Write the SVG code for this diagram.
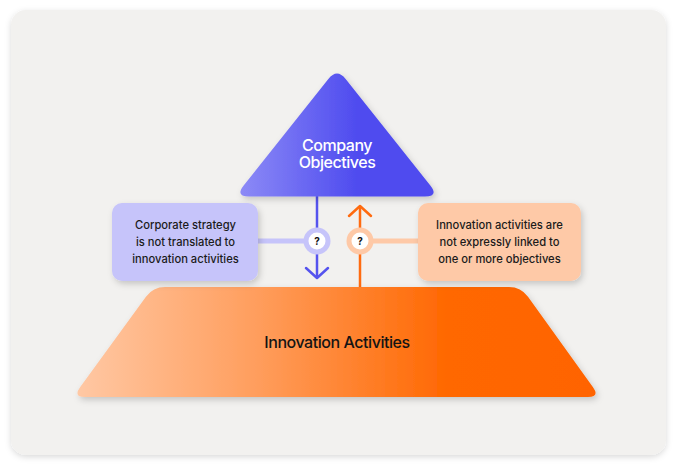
<svg xmlns="http://www.w3.org/2000/svg" width="677" height="466" viewBox="0 0 677 466">
<defs>
<linearGradient id="gTri" x1="0" y1="0" x2="1" y2="0" gradientUnits="objectBoundingBox">
<stop offset="0" stop-color="#8c8af6"/>
<stop offset="0.6" stop-color="#4f4cef"/>
<stop offset="1" stop-color="#4f4cef"/>
</linearGradient>
<linearGradient id="gTrap" x1="0" y1="0" x2="1" y2="0">
<stop offset="0" stop-color="#ffc8a4"/>
<stop offset="0.35" stop-color="#ff9d5c"/>
<stop offset="0.72" stop-color="#ff6700"/>
<stop offset="1" stop-color="#ff6400"/>
</linearGradient>
<filter id="sh" x="-10%" y="-10%" width="120%" height="130%">
<feDropShadow dx="2" dy="3" stdDeviation="3" flood-color="#000" flood-opacity="0.18"/>
</filter>
<filter id="shCard" x="-5%" y="-5%" width="110%" height="110%">
<feDropShadow dx="0" dy="2" stdDeviation="3" flood-color="#000" flood-opacity="0.15"/>
</filter>
<style>
.t{font-family:Inter,"Noto Sans","Liberation Sans",sans-serif;text-anchor:middle}
.box{font-size:11.2px;font-weight:500;fill:#1b1b1b}
.big{font-size:16px;font-weight:500;letter-spacing:-0.45px}
</style>
</defs>
<rect x="0" y="0" width="677" height="466" fill="#ffffff"/>
<rect id="card" x="11" y="10" width="655" height="445" rx="15" fill="#f2f1ef" filter="url(#shCard)"/>

<g id="connectors">
<line x1="258" y1="241" x2="317" y2="241" stroke="#c6c4fa" stroke-width="5"/>
<line x1="360" y1="241" x2="419" y2="241" stroke="#fec9a7" stroke-width="5"/>
<line x1="317" y1="194" x2="317" y2="277" stroke="#5553ee" stroke-width="2.5"/>
<polyline points="306,268 317,278 328,268" fill="none" stroke="#5553ee" stroke-width="2.5" stroke-linecap="round" stroke-linejoin="round"/>
<line x1="360" y1="290" x2="360" y2="207" stroke="#ff6b10" stroke-width="2.5"/>
<polyline points="349,216 360,206 371,216" fill="none" stroke="#ff6b10" stroke-width="2.5" stroke-linecap="round" stroke-linejoin="round"/>
<circle cx="317" cy="241" r="13.5" fill="#c6c4fa"/>
<circle cx="317" cy="241" r="8.5" fill="#ffffff"/>
<text class="t" x="317" y="245" font-size="10" font-weight="700" fill="#111">?</text>
<circle cx="360" cy="241" r="13.5" fill="#fec9a7"/>
<circle cx="360" cy="241" r="8.5" fill="#ffffff"/>
<text class="t" x="360" y="245" font-size="10" font-weight="700" fill="#111">?</text>
</g>

<g id="company-objectives">
<path d="M328.35 79 Q337 68 345.65 79 L430.35 185.5 Q439 196.5 425 196.5 L249 196.5 Q235 196.5 243.65 185.5 Z" fill="url(#gTri)" filter="url(#sh)"/>
<text class="t big" x="337" y="151" fill="#ffffff">Company</text>
<text class="t big" x="337" y="168" fill="#ffffff">Objectives</text>
</g>

<g id="innovation-activities">
<path d="M165 287 L509 287 Q521 287 528 296.75 L593 387.25 Q600 397 588 397 L85 397 Q73 397 80.06 387.3 L145.94 296.7 Q153 287 165 287 Z" fill="url(#gTrap)" filter="url(#sh)"/>
<text class="t big" x="337" y="348" fill="#141414">Innovation Activities</text>
</g>

<g id="corporate-strategy">
<rect x="112" y="203" width="146" height="78" rx="10" fill="#c6c4fa" filter="url(#sh)"/>
<text class="t box" x="185.5" y="228.5">Corporate strategy</text>
<text class="t box" x="185.5" y="245.5">is not translated to</text>
<text class="t box" x="185.5" y="262.5">innovation activities</text>
</g>

<g id="innovation-not-linked">
<rect x="418" y="203" width="163" height="78" rx="10" fill="#fec9a7" filter="url(#sh)"/>
<text class="t box" x="499.5" y="228.5">Innovation activities are</text>
<text class="t box" x="499.5" y="245.5">not expressly linked to</text>
<text class="t box" x="499.5" y="262.5">one or more objectives</text>
</g>
</svg>
